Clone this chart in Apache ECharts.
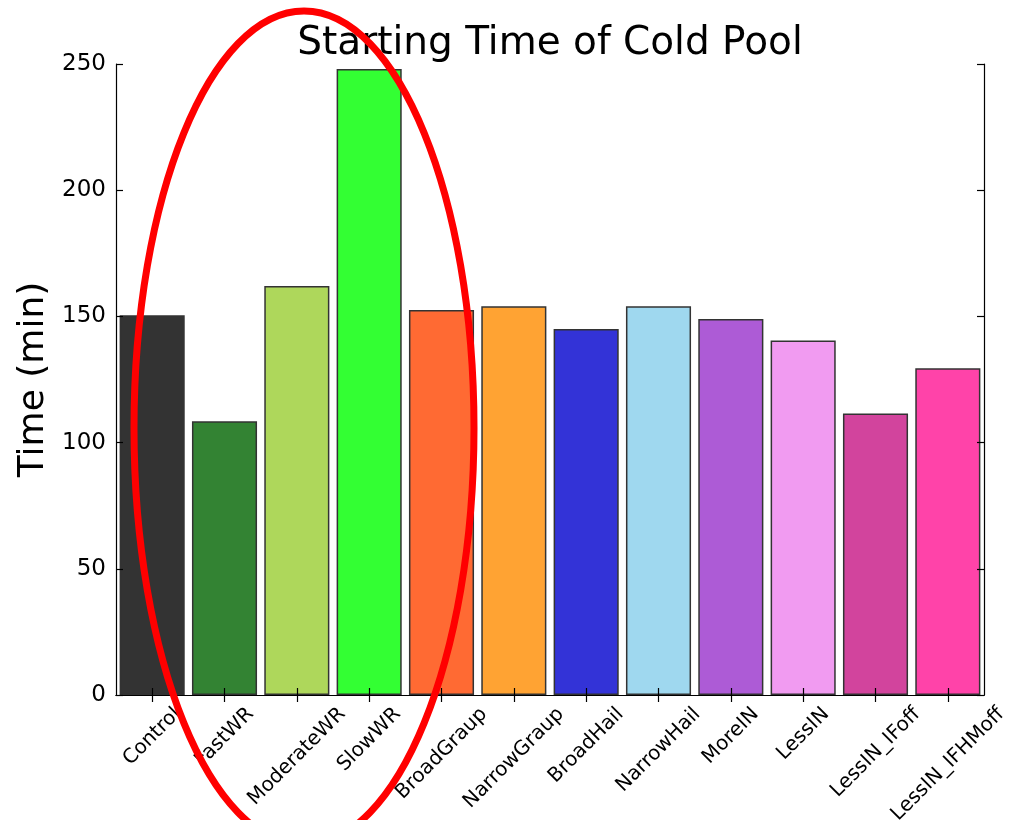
<!DOCTYPE html>
<html>
<head>
<meta charset="utf-8">
<script src="https://cdn.jsdelivr.net/npm/echarts@6/dist/echarts.min.js"></script>
<style>
  html, body { margin: 0; padding: 0; background: #ffffff; }
  #chart { width: 1013px; height: 820px; }
</style>
</head>
<body>
<div id="chart"></div>
<script>
// Model runs and the time (min) at which the cold pool first appears
const runNames = ['Control', 'FastWR', 'ModerateWR', 'SlowWR', 'BroadGraup', 'NarrowGraup',
                  'BroadHail', 'NarrowHail', 'MoreIN', 'LessIN', 'LessIN_IFoff', 'LessIN_IFHMoff'];
const startMinutes = [150.5, 108.5, 162, 248, 152.5, 154, 145, 154, 149, 140.5, 111.5, 129.5];
const barColors = ['#333333', '#338333', '#aed75b', '#33ff33', '#ff6a33', '#ffa333',
                   '#3333d7', '#9fd8ef', '#ad5bd6', '#f19bf1', '#d2449d', '#ff43a9'];
const yTickValues = [0, 50, 100, 150, 200, 250];

const FONT = 'DejaVu Sans';
const LABEL_SIZE = 20;

// Rotated category labels are centred under their tick with their tops aligned.
// In the text's own frame the centre has to move back by s/2 along the baseline
// (right padding) and down by s/2 (a tall line box with top alignment).
const measureCtx = document.createElement('canvas').getContext('2d');
measureCtx.font = LABEL_SIZE + 'px "' + FONT + '"';
const categoryItems = runNames.map(function (name) {
  const w = measureCtx.measureText(name).width;
  const s = (w + LABEL_SIZE) / 2;
  return {
    value: name,
    textStyle: { align: 'center', verticalAlign: 'top', lineHeight: s, padding: [0, s, 0, 0] }
  };
});

const yMin = yTickValues[0];
const yMax = yTickValues[yTickValues.length - 1];
const yStep = yTickValues[1] - yTickValues[0];

const chart = echarts.init(document.getElementById('chart'), null, { renderer: 'canvas' });

const frameLine = { show: true, lineStyle: { color: '#000000', width: 1.2 } };
const innerTick = { show: true, inside: true, length: 7, lineStyle: { color: '#000000', width: 1.2 } };

chart.setOption({
  animation: false,
  backgroundColor: '#ffffff',
  title: {
    text: 'Starting Time of Cold Pool',
    left: 545,
    textAlign: 'center',
    top: 19,
    textStyle: { fontFamily: FONT, fontSize: 39, fontWeight: 'normal', color: '#000000' }
  },
  grid: { left: 116, right: 29, top: 64, bottom: 125, outerBoundsMode: 'none' },
  xAxis: [
    {
      type: 'category',
      position: 'bottom',
      data: categoryItems,
      boundaryGap: true,
      z: 5,
      axisLine: frameLine,
      axisTick: Object.assign({ alignWithLabel: true }, innerTick),
      axisLabel: {
        interval: 0,
        rotate: 45,
        margin: 9,
        hideOverlap: false,
        fontFamily: FONT,
        fontSize: LABEL_SIZE,
        color: '#000000'
      },
      splitLine: { show: false }
    },
    {
      type: 'category',
      position: 'top',
      data: runNames,
      boundaryGap: true,
      z: 5,
      axisLine: frameLine,
      axisTick: Object.assign({ alignWithLabel: true, interval: 0 }, innerTick),
      axisLabel: { show: false },
      splitLine: { show: false }
    }
  ],
  yAxis: [
    {
      type: 'value',
      position: 'left',
      min: yMin,
      max: yMax,
      interval: yStep,
      z: 5,
      axisLine: frameLine,
      axisTick: innerTick,
      axisLabel: { fontFamily: FONT, fontSize: 23, color: '#000000', margin: 10 },
      splitLine: { show: false },
      name: 'Time (min)',
      nameLocation: 'middle',
      nameGap: 63,
      nameTextStyle: { fontFamily: FONT, fontSize: 36, color: '#000000' }
    },
    {
      type: 'value',
      position: 'right',
      min: yMin,
      max: yMax,
      interval: yStep,
      z: 5,
      axisLine: frameLine,
      axisTick: innerTick,
      axisLabel: { show: false },
      splitLine: { show: false }
    }
  ],
  series: [
    {
      type: 'bar',
      xAxisIndex: 0,
      yAxisIndex: 0,
      barCategoryGap: '10%',
      data: startMinutes.map(function (v, i) {
        return { value: v, itemStyle: { color: barColors[i] } };
      }),
      itemStyle: { borderColor: '#333333', borderWidth: 1.5 }
    }
  ],
  graphic: [
    {
      type: 'ellipse',
      z: 100,
      silent: true,
      shape: { cx: 304, cy: 428, rx: 170, ry: 417 },
      style: { fill: 'none', stroke: '#ff0000', lineWidth: 7 }
    }
  ]
});
</script>
</body>
</html>
